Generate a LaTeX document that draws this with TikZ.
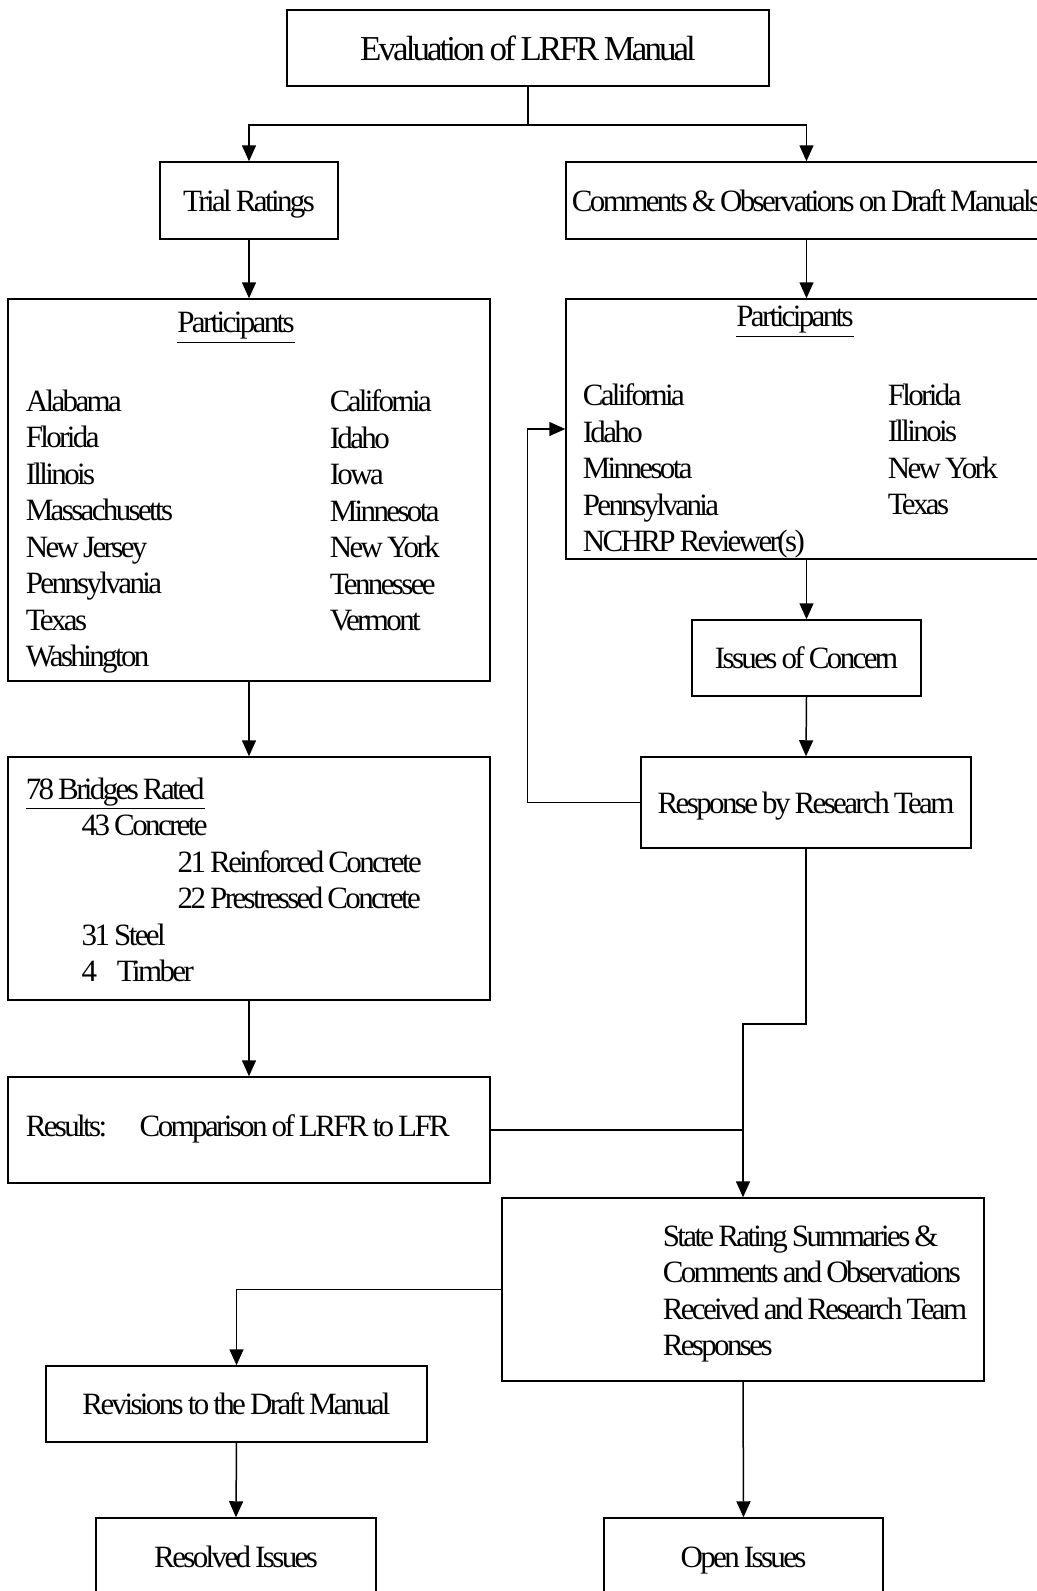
\documentclass[tikz,border=0pt]{standalone}
\usepackage{fontspec}
\setmainfont{Liberation Serif}[LetterSpace=-8.5, WordSpace=0.8]
\usetikzlibrary{arrows.meta}

\begin{document}
\begin{tikzpicture}[x=0.5pt, y=-0.5pt, line width=0.75pt, >={Triangle[length=8pt, width=7pt]}]
\tikzset{box/.style={draw, rectangle, inner sep=0, text depth=0pt, font=\fontsize{15.5}{18.25}\selectfont},
  txt/.style={anchor=north west, inner sep=0, align=left, font=\fontsize{15.5}{18.25}\selectfont}}
\useasboundingbox (0,0) rectangle (1037,1591);
\clip (0,0) rectangle (1037,1591);

% boxes, centres in pixels of the page
\node[box, minimum width=241pt, minimum height=38pt, font=\fontsize{17.5}{21}\selectfont] (T) at (528,48) {Evaluation of LRFR Manual};
\node[box, minimum width=89pt, minimum height=38.5pt] (TR) at (249,200.5) {Trial Ratings};
\node[box, minimum width=240.5pt, minimum height=38.5pt] (CO) at (806.5,200.5) {Comments \& Observations on Draft Manuals};
\node[box, minimum width=241pt, minimum height=191pt] (LP) at (249,490) {};
\node[box, minimum width=240.5pt, minimum height=130pt] (RP) at (806.5,429) {};
\node[box, minimum width=114.5pt, minimum height=38pt] (IC) at (806.5,658) {Issues of Concern};
\node[box, minimum width=165pt, minimum height=45.5pt] (RT) at (806,802.5) {Response by Research Team};
\node[box, minimum width=241pt, minimum height=121.5pt] (BR) at (249,878.5) {};
\node[box, minimum width=241pt, minimum height=53pt] (RS) at (249,1130) {};
\node[box, minimum width=241pt, minimum height=91.5pt] (ST) at (743,1289.5) {};
\node[box, minimum width=190.5pt, minimum height=38pt] (RV) at (236.5,1404) {Revisions to the Draft Manual};
\node[box, minimum width=140pt, minimum height=39pt] (RI) at (236,1557) {Resolved Issues};
\node[box, minimum width=139.5pt, minimum height=39pt] (OI) at (743.5,1557) {Open Issues};

% texts in the list boxes
\node[txt, anchor=center] (LPh) at (236,328) {\underline{Participants}};
\node[txt] (LPa) at (25,389) {Alabama\\Florida\\Illinois\\Massachusetts\\New Jersey\\Pennsylvania\\Texas\\Washington};
\node[txt] (LPb) at (329,389) {California\\Idaho\\Iowa\\Minnesota\\New York\\Tennessee\\Vermont};
\node[txt, anchor=center] (RPh) at (795,322) {\underline{Participants}};
\node[txt] (RPa) at (582,383) {California\\Idaho\\Minnesota\\Pennsylvania\\NCHRP Reviewer(s)};
\node[txt] (RPb) at (887,383) {Florida\\Illinois\\New York\\Texas};
\node[txt] (BRt) at (25,777) {\underline{78 Bridges Rated}\\
  \hspace*{28pt}43 Concrete\\
  \hspace*{76pt}21 Reinforced Concrete\\
  \hspace*{76pt}22 Prestressed Concrete\\
  \hspace*{28pt}31 Steel\\
  \hspace*{28pt}4\hphantom{1} Timber};
\node[txt, anchor=west] (RSt) at (25,1129) {\makebox[57pt][l]{Results:}Comparison of LRFR to LFR};
\node[txt] (STt) at (662,1225) {State Rating Summaries \&\\Comments and Observations\\Received and Research Team\\Responses};

% connectors
\draw (T.south) -- ++(0,38) coordinate (Tb);
\draw[->] (Tb) -| (TR.north);
\draw[->] (Tb) -| (CO.north);
\draw[->] (TR.south) -- (LP.north);
\draw[->] (CO.south) -- (RP.north);
\draw[->] (RP.south) -- (IC.north);
\draw[->] (IC.south) -- (RT.north);
\draw[->] (RT.west) -- ++(-113,0) |- (RP.west);
\draw[->] (LP.south) -- (BR.north);
\draw[->] (BR.south) -- (RS.north);
\draw[->] (RT.south) -- ++(0,175) -| (ST.north);
\draw (RS.east) -- (RS.east -| ST.north);
\draw[->] (ST.west) -| (RV.north);
\draw[->] (RV.south) -- (RI.north);
\draw[->] (ST.south) -- (OI.north);

\end{tikzpicture}
\end{document}
